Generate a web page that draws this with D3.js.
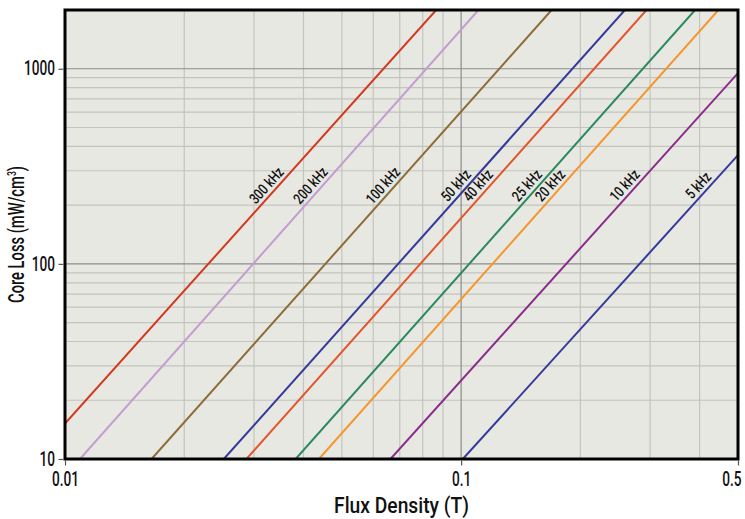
<!DOCTYPE html>
<html>
<head>
<meta charset="utf-8">
<script src="https://cdn.jsdelivr.net/npm/d3@7"></script>
<style>
  html, body { margin: 0; padding: 0; background: #ffffff; }
  svg { display: block; }
  text { font-family: Roboto, "Noto Sans", sans-serif; font-weight: 500; fill: #111; }
</style>
</head>
<body>
<svg id="chart" width="745" height="519"></svg>
<script>
// ---- data ----
const frequencies = ["300 kHz", "200 kHz", "100 kHz", "50 kHz", "40 kHz", "25 kHz", "20 kHz", "10 kHz", "5 kHz"];
const fluxStart  = [0.01,   0.01091, 0.01654, 0.02517, 0.02871, 0.03822, 0.04375, 0.06633, 0.1010];
const lossStart  = [15.2,   10,      10,      10,      10,      10,      10,      10,      10];
const fluxEnd    = [0.0865, 0.1106,  0.1692,  0.2591,  0.2937,  0.3896,  0.4462,  0.5,     0.5];
const lossEnd    = [2000,   2000,    2000,    2000,    2000,    2000,    2000,    950,     361];
const lineColors = ["#d2391f", "#c49ccf", "#8d6c38", "#36389b", "#e4552c", "#2a8a5c", "#f5962c", "#8a2c8a", "#36389b"];
const xTicks = [0.01, 0.1, 0.5];
const yTicks = [10, 100, 1000];
const xMinorGrid = [0.02, 0.03, 0.04, 0.05, 0.06, 0.07, 0.08, 0.09, 0.2, 0.3, 0.4];
const xMajorGrid = [0.1];
const yMinorGrid = [20, 30, 40, 50, 60, 70, 80, 90, 200, 300, 400, 500, 600, 700, 800, 900];
const yMajorGrid = [100, 1000];
const labelLoss = 235;

// ---- layout ----
const margin = { left: 65, right: 7, top: 10, bottom: 60 };
const W = 745, H = 519;
const iw = W - margin.left - margin.right;
const ih = H - margin.top - margin.bottom;
const squeeze = 0.7;

const svg = d3.select("#chart");
const g = svg.append("g").attr("transform", `translate(${margin.left},${margin.top})`);

const x = d3.scaleLog().domain([0.01, 0.5]).range([0, iw]);
const y = d3.scaleLog().domain([10, 2000]).range([ih, 0]);

// background
g.append("rect").attr("width", iw).attr("height", ih).attr("fill", "#e8e8e3");

// grid
function vgrid(vals, color) {
  g.append("g").selectAll("line").data(vals).enter().append("line")
    .attr("x1", d => x(d)).attr("x2", d => x(d)).attr("y1", 0).attr("y2", ih)
    .attr("stroke", color).attr("stroke-width", 1.2);
}
function hgrid(vals, color) {
  g.append("g").selectAll("line").data(vals).enter().append("line")
    .attr("y1", d => y(d)).attr("y2", d => y(d)).attr("x1", 0).attr("x2", iw)
    .attr("stroke", color).attr("stroke-width", 1.2);
}
vgrid(xMinorGrid, "#c4c4bf");
hgrid(yMinorGrid, "#c4c4bf");
vgrid(xMajorGrid, "#8c8c8a");
hgrid(yMajorGrid, "#8c8c8a");

// series
const series = frequencies.map((f, i) => ({
  name: f, color: lineColors[i],
  pts: [[fluxStart[i], lossStart[i]], [fluxEnd[i], lossEnd[i]]]
}));
const line = d3.line().x(d => x(d[0])).y(d => y(d[1]));
svg.append("clipPath").attr("id", "clip").append("rect").attr("width", iw).attr("height", ih);
g.append("g").attr("clip-path", "url(#clip)").selectAll("path").data(series).enter().append("path")
  .attr("d", d => line(d.pts)).attr("fill", "none")
  .attr("stroke", d => d.color).attr("stroke-width", 2);

// labels
series.forEach(s => {
  const [p1, p2] = s.pts;
  const x1 = x(p1[0]), y1 = y(p1[1]), x2 = x(p2[0]), y2 = y(p2[1]);
  const yl = y(labelLoss);
  const t = (yl - y1) / (y2 - y1);
  const xl = x1 + t * (x2 - x1);
  const ang = Math.atan2(y2 - y1, x2 - x1);
  const off = 4;
  const px = xl + Math.sin(ang) * off, py = yl - Math.cos(ang) * off;
  g.append("text")
    .attr("transform", `translate(${px},${py}) rotate(${ang * 180 / Math.PI}) scale(0.78,1)`)
    .attr("text-anchor", "middle")
    .attr("font-size", 15)
    .text(s.name);
});

// frame
g.append("rect").attr("width", iw).attr("height", ih).attr("fill", "none")
  .attr("stroke", "#000").attr("stroke-width", 3);

// axes
const xAxis = d3.axisBottom(x).tickValues(xTicks).tickFormat(d3.format("")).tickSize(5).tickPadding(8);
const yAxis = d3.axisLeft(y).tickValues(yTicks).tickFormat(d3.format("")).tickSize(5).tickPadding(5);
const gx = g.append("g").attr("transform", `translate(0,${ih})`).call(xAxis);
const gy = g.append("g").call(yAxis);
[gx, gy].forEach(a => {
  a.select(".domain").remove();
  a.selectAll(".tick line").attr("stroke", "#555").attr("stroke-width", 1.2);
  a.selectAll(".tick text").attr("font-size", 19.5).attr("fill", "#111")
    .style("font-family", "Roboto, sans-serif").style("font-weight", 500);
});
gx.selectAll(".tick line").attr("transform", "translate(0,1.5)");
gy.selectAll(".tick line").attr("transform", "translate(-1.5,0)");
gx.selectAll(".tick text").attr("transform", `scale(${squeeze},1)`);
gx.selectAll(".tick text").filter(d => d === 0.5).attr("text-anchor", "end").attr("x", 3 / squeeze);
gy.selectAll(".tick text").attr("transform", `scale(${squeeze},1)`).attr("x", -10 / squeeze);

// axis titles (condensed to the reference widths)
function fitWidth(sel, target) {
  const w = sel.node().getComputedTextLength();
  return target / w;
}
const xt = svg.append("text").attr("text-anchor", "middle").attr("font-size", 22).text("Flux Density (T)");
const sx = fitWidth(xt, 135);
xt.attr("transform", `translate(${margin.left + iw / 2},513) scale(${sx},1)`);

const yt = svg.append("text").attr("text-anchor", "middle").attr("font-size", 22)
  .html('Core Loss (mW/cm<tspan dy="-8" font-size="13">3</tspan><tspan dy="8">)</tspan>');
const sy = fitWidth(yt, 137);
yt.attr("transform", `translate(24,${margin.top + ih / 2}) rotate(-90) scale(${sy},1)`);
</script>
</body>
</html>
